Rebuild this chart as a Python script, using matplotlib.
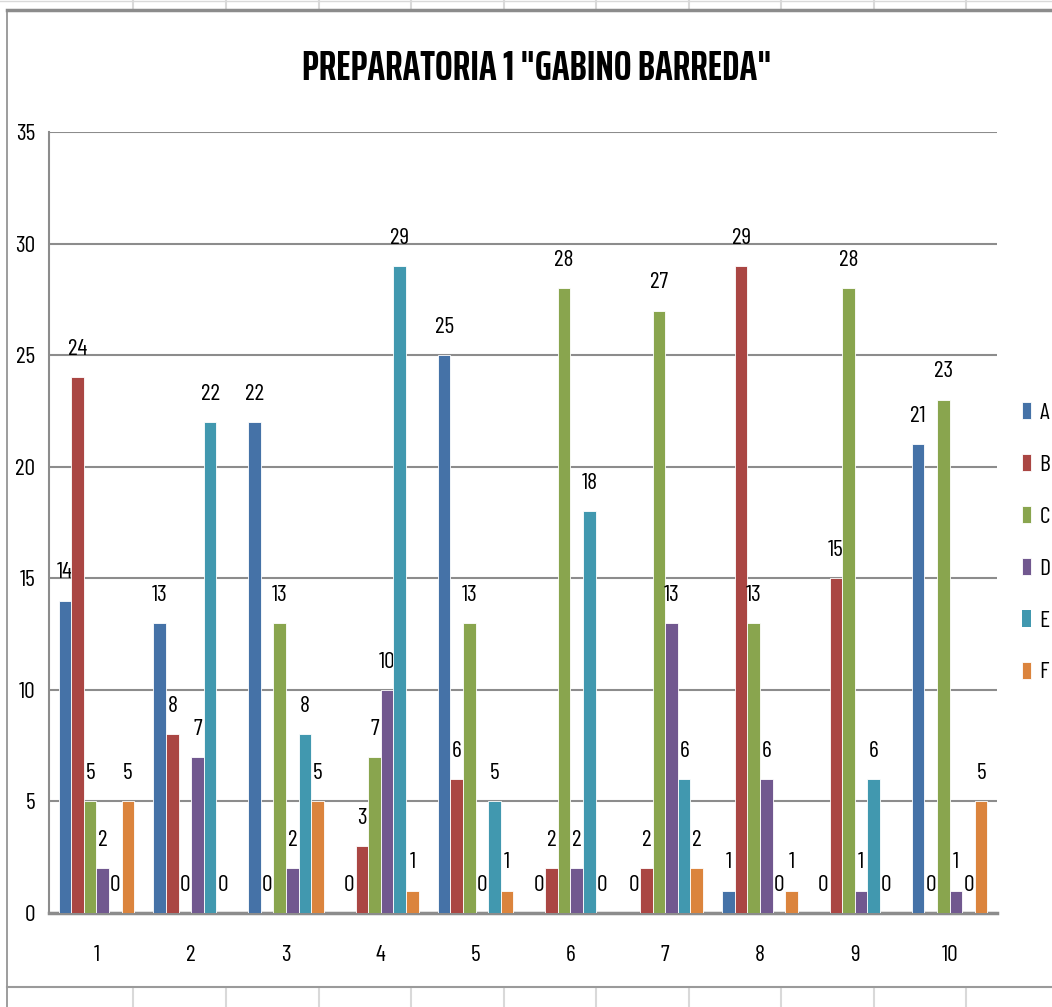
import matplotlib
matplotlib.use("Agg")
import matplotlib.pyplot as plt
import numpy as np
from matplotlib.lines import Line2D

plt.rcParams['font.family'] = ['Barlow Condensed', 'DejaVu Sans']

groups = ['1', '2', '3', '4', '5', '6', '7', '8', '9', '10']
series_names = ['A', 'B', 'C', 'D', 'E', 'F']
A = [14, 13, 22, 0, 25, 0, 0, 1, 0, 21]
B = [24, 8, 0, 3, 6, 2, 2, 29, 15, 0]
C = [5, 0, 13, 7, 13, 28, 27, 13, 28, 23]
D = [2, 7, 2, 10, 0, 2, 13, 6, 1, 1]
E = [0, 22, 8, 29, 5, 18, 6, 0, 6, 0]
F = [5, 0, 5, 1, 1, 0, 2, 1, 0, 5]
colors = ['#4572A7', '#AA4643', '#89A54E', '#71588F', '#4198AF', '#DB843D']
title = 'PREPARATORIA 1 "GABINO BARREDA"'

W, H = 1052, 1007
fig = plt.figure(figsize=(W / 100, H / 100), dpi=100)

# spreadsheet cell lines around the chart
for xp in [133, 226, 319, 411, 504, 596, 689, 781, 874, 966]:
    fig.add_artist(Line2D([xp / W, xp / W], [1, 998 / H], color='#d9d9d9', lw=1.5))
    fig.add_artist(Line2D([xp / W, xp / W], [0, 19 / H], color='#d9d9d9', lw=1.5))
fig.add_artist(Line2D([0, 1], [1006 / H, 1006 / H], color='#d9d9d9', lw=1))
# chart border
fig.add_artist(Line2D([7 / W, 1], [997 / H, 997 / H], color='#8c8c8c', lw=2.5))
fig.add_artist(Line2D([7 / W, 7 / W], [0, 997 / H], color='#8c8c8c', lw=1.2))
fig.add_artist(Line2D([7 / W, 1], [20 / H, 20 / H], color='#9a9a9a', lw=1.5))

ax = fig.add_axes([49 / W, 94 / H, 948 / W, 781 / H])

data = [A, B, C, D, E, F]
x = np.arange(len(groups))
w = 0.133
for i, (name, vals) in enumerate(zip(series_names, data)):
    pos = x + (i - 2.5) * w
    lws = [0.6 if v > 0 else 0 for v in vals]
    ax.bar(pos, vals, width=w, color=colors[i], label=name,
           edgecolor='white', linewidth=lws, zorder=3)
    for p, v in zip(pos, vals):
        ax.annotate(str(v), (p, v), xytext=(0, 20), textcoords='offset points',
                    ha='center', va='center', fontsize=17, color='black')

ax.set_xlim(-0.5, len(groups) - 0.5)
ax.set_ylim(0, 35)
ax.set_yticks(range(0, 36, 5))
ax.set_xticks(x)
ax.set_xticklabels(groups)
ax.yaxis.grid(True, color='#8c8c8c', lw=1.5, zorder=0)
ax.set_axisbelow(True)
for s in ['top', 'right']:
    ax.spines[s].set_visible(False)
ax.spines['left'].set_color('#8c8c8c')
ax.spines['left'].set_linewidth(1.5)
ax.spines['bottom'].set_color('#8c8c8c')
ax.spines['bottom'].set_linewidth(2.5)
ax.tick_params(axis='both', length=0, labelsize=17)
ax.tick_params(axis='y', pad=10)
ax.tick_params(axis='x', pad=23)

t = fig.text(537 / W, 1 - 68 / H, title, ha='center', va='center',
             fontsize=40, fontweight='bold',
             family=['Saira ExtraCondensed', 'Barlow Condensed', 'DejaVu Sans'])
# squeeze the title to the width it has in the original
r = fig.canvas.get_renderer()
tw = t.get_window_extent(r).width
if tw > 470:
    t.set_fontsize(40 * 470 / tw)

ax.legend(loc='center left', bbox_to_anchor=(1.026, 0.474), frameon=False,
          fontsize=17, handlelength=0.4, handleheight=0.75, handletextpad=0.35,
          labelspacing=1.27, borderaxespad=0, borderpad=0)

fig.savefig('out.png', dpi=100)
